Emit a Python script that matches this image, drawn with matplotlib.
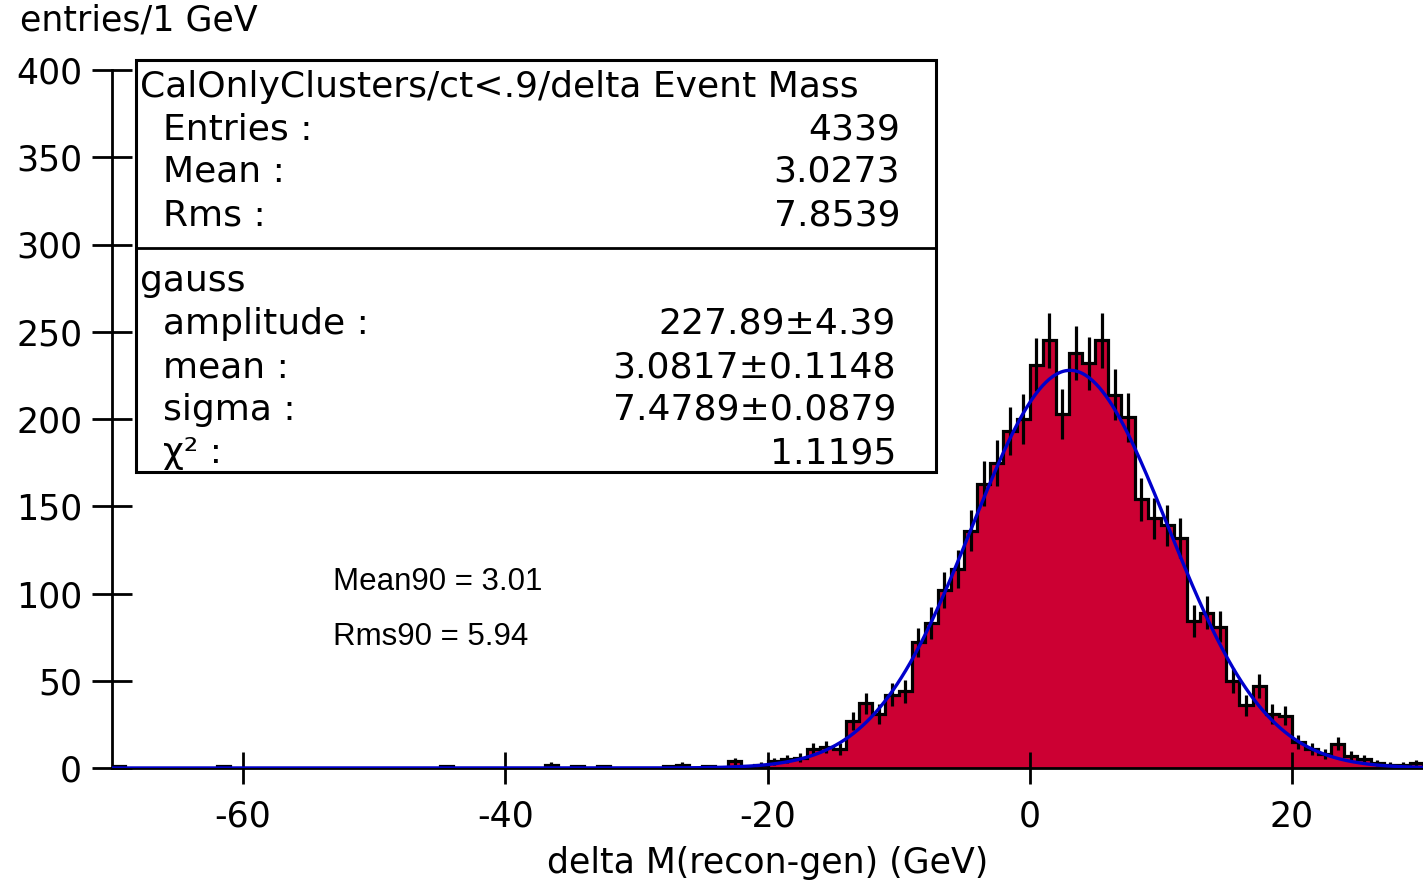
import numpy as np
import matplotlib
matplotlib.use("Agg")
import matplotlib.pyplot as plt
from matplotlib.patches import Rectangle

W, H = 1423, 882

# histogram: 1 GeV bins from -70 to 30 (counts per bin, left to right)
x_lo, x_hi = -70, 30
counts = [
    1, 0, 0, 0, 0, 0, 0, 0, 1, 0,          # -70 .. -61
    0, 0, 0, 0, 0, 0, 0, 0, 0, 0,          # -60 .. -51
    0, 0, 0, 0, 0, 1, 0, 0, 0, 0,          # -50 .. -41
    0, 0, 0, 2, 0, 1, 0, 1, 0, 0,          # -40 .. -31
    0, 0, 1, 2, 0, 1, 0, 4, 1, 2,          # -30 .. -21
    4, 5, 6, 11, 12, 11, 27, 37, 31, 42,   # -20 .. -11
    44, 72, 83, 102, 114, 136, 163, 175, 193, 200,  # -10 .. -1
    231, 245, 203, 238, 232, 245, 214, 201, 154, 143,  # 0 .. 9
    139, 132, 84, 89, 81, 50, 36, 47, 31, 30,  # 10 .. 19
    15, 11, 8, 14, 7, 5, 3, 2, 2, 3,       # 20 .. 29
]

# gauss fit parameters (from the stats box)
fit_amp, fit_mean, fit_sigma = 227.89, 3.0817, 7.4789

stats_title = "CalOnlyClusters/ct<.9/delta Event Mass"
stats_rows = [("Entries :", "4339"), ("Mean :", "3.0273"), ("Rms :", "7.8539")]
fit_rows = [("amplitude :", "227.89\u00b14.39"), ("mean :", "3.0817\u00b10.1148"),
            ("sigma :", "7.4789\u00b10.0879"), ("\u03c7\u00b2 :", "1.1195")]
fit_name = "gauss"
mean90, rms90 = 3.01, 5.94

RED = "#cc0033"
BLUE = "#0000cc"

plt.rcParams["axes.unicode_minus"] = False
plt.rcParams["font.family"] = "DejaVu Sans"


def fx(x):
    return x / W


def fy(y):
    return 1 - y / H


fig = plt.figure(figsize=(W / 100, H / 100), dpi=100)
ax = fig.add_axes([fx(112), fy(768), fx(1423 - 112), (768 - 70) / H])

edges = np.arange(x_lo, x_hi + 1, 1.0)
centers = 0.5 * (edges[:-1] + edges[1:])
c = np.array(counts, dtype=float)

ax.stairs(c, edges, fill=True, color=RED, zorder=1)
ax.stairs(c, edges, color="black", lw=2.3, zorder=2)
nz = c > 0
ax.errorbar(centers[nz], c[nz], yerr=np.sqrt(c[nz]), fmt="none",
            ecolor="black", elinewidth=2.3, capsize=0, zorder=3)

xs = np.linspace(x_lo, x_hi, 1200)
ax.plot(xs, fit_amp * np.exp(-0.5 * ((xs - fit_mean) / fit_sigma) ** 2),
        color=BLUE, lw=2.4, zorder=4)

ax.set_xlim(x_lo, x_hi)
ax.set_ylim(0, 400)
for s in ("top", "right"):
    ax.spines[s].set_visible(False)
for s in ("left", "bottom"):
    ax.spines[s].set_linewidth(2)
ax.set_xticks([-60, -40, -20, 0, 20])
ax.set_yticks(range(0, 401, 50))
ax.tick_params(axis="y", direction="inout", length=29, width=2, pad=7, labelsize=25)
ax.tick_params(axis="x", direction="inout", length=23, width=2, pad=11, labelsize=25)
ax.set_xlabel("delta M(recon-gen) (GeV)", fontsize=25)
ax.xaxis.set_label_coords(0.5, -0.112)

fig.text(fx(20), fy(20), "entries/1 GeV", fontsize=25, va="center", ha="left")

# stats box
fig.patches.append(Rectangle((fx(136), fy(472)), fx(936 - 136), (472 - 60) / H,
                             transform=fig.transFigure, fill=False,
                             edgecolor="black", lw=2.2, zorder=5))
fig.add_artist(plt.Line2D([fx(136), fx(936)], [fy(248), fy(248)],
                          transform=fig.transFigure, color="black", lw=2))

fs = 26
fig.text(fx(140), fy(97), stats_title, fontsize=fs, va="baseline")
for i, (lab, val) in enumerate(stats_rows):
    yb = 139 + 43 * i
    fig.text(fx(163), fy(yb), lab, fontsize=fs, va="baseline")
    fig.text(fx(900), fy(yb), val, fontsize=fs, va="baseline", ha="right")
fig.text(fx(140), fy(291), fit_name, fontsize=fs, va="baseline")
for i, (lab, val) in enumerate(fit_rows):
    yb = 334 + 43 * i
    fig.text(fx(163), fy(yb), lab, fontsize=fs, va="baseline")
    fig.text(fx(896), fy(yb), val, fontsize=fs, va="baseline", ha="right")

fig.text(fx(333), fy(590), f"Mean90 = {mean90:.2f}", fontsize=22.5,
         family="Liberation Sans", va="baseline")
fig.text(fx(333), fy(645), f"Rms90 = {rms90:.2f}", fontsize=22.5,
         family="Liberation Sans", va="baseline")

fig.savefig("out.png", dpi=100)
